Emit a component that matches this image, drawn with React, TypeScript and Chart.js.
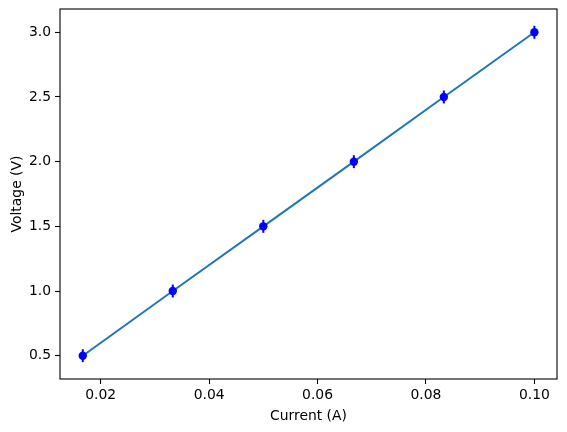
import React, { useEffect, useRef } from 'react'
import { Chart, registerables } from 'chart.js'

Chart.register(...registerables)

// I = V / R measurements
const current = [0.0167, 0.0333, 0.05, 0.0667, 0.0833, 0.1]
const voltage = [0.5, 1.0, 1.5, 2.0, 2.5, 3.0]
const voltageErr = [0.05, 0.05, 0.05, 0.05, 0.05, 0.05]

const xTicks = [0.02, 0.04, 0.06, 0.08, 0.1]
const yTicks = [0.5, 1.0, 1.5, 2.0, 2.5, 3.0]

const FONT = { family: 'DejaVu Sans', size: 13.9 }

const errorBars = {
  id: 'errorBars',
  afterDatasetsDraw(chart: any) {
    const { ctx, scales } = chart
    ctx.save()
    ctx.strokeStyle = '#0000ff'
    ctx.lineWidth = 2
    current.forEach((x, i) => {
      const px = scales.x.getPixelForValue(x)
      const y1 = scales.y.getPixelForValue(voltage[i] - voltageErr[i])
      const y2 = scales.y.getPixelForValue(voltage[i] + voltageErr[i])
      ctx.beginPath()
      ctx.moveTo(px, y1)
      ctx.lineTo(px, y2)
      ctx.stroke()
    })
    ctx.restore()
  },
}

const frame = {
  id: 'frame',
  afterDraw(chart: any) {
    const { ctx, chartArea } = chart
    ctx.save()
    ctx.strokeStyle = '#000'
    ctx.lineWidth = 1.1
    ctx.strokeRect(chartArea.left, chartArea.top, chartArea.right - chartArea.left, chartArea.bottom - chartArea.top)
    ctx.restore()
  },
}

export default function App() {
  const canvasRef = useRef<HTMLCanvasElement>(null)

  useEffect(() => {
    if (!canvasRef.current) return
    const points = current.map((x, i) => ({ x, y: voltage[i] }))

    const chart = new Chart(canvasRef.current, {
      type: 'scatter',
      data: {
        datasets: [
          {
            data: points,
            showLine: true,
            borderColor: '#1f77b4',
            borderWidth: 2,
            pointRadius: 0,
            order: 2,
          },
          {
            data: points,
            showLine: false,
            pointRadius: 4.2,
            pointBackgroundColor: '#0000ff',
            pointBorderColor: '#0000ff',
            pointBorderWidth: 0,
            order: 1,
          },
        ],
      },
      options: {
        responsive: false,
        animation: false,
        layout: { padding: { top: 9, right: 10, left: 0, bottom: 0 } },
        plugins: { legend: { display: false }, tooltip: { enabled: false } },
        scales: {
          x: {
            type: 'linear',
            min: 0.0125,
            max: 0.10417,
            afterBuildTicks: (s: any) => { s.ticks = xTicks.map(v => ({ value: v })) },
            afterFit: (s: any) => {
              s.height = 53
              s.paddingLeft = 0
              s.paddingRight = 0
            },
            grid: { drawOnChartArea: false, drawTicks: true, tickLength: 5, tickColor: '#000', tickWidth: 1.1 },
            border: { display: false },
            ticks: {
              color: '#000',
              font: FONT,
              padding: 3,
              maxRotation: 0,
              callback: (v: any) => Number(v).toFixed(2),
            },
            title: { display: true, text: 'Current (A)', color: '#000', font: FONT, padding: { top: 0, bottom: 7 } },
          },
          y: {
            type: 'linear',
            min: 0.32,
            max: 3.18,
            afterBuildTicks: (s: any) => { s.ticks = yTicks.map(v => ({ value: v })) },
            afterFit: (s: any) => {
              s.width = 60
              s.paddingTop = 0
              s.paddingBottom = 0
            },
            grid: { drawOnChartArea: false, drawTicks: true, tickLength: 5, tickColor: '#000', tickWidth: 1.1 },
            border: { display: false },
            ticks: {
              color: '#000',
              font: FONT,
              padding: 4,
              callback: (v: any) => Number(v).toFixed(1),
            },
            title: { display: true, text: 'Voltage (V)', color: '#000', font: FONT, padding: { top: 8.7, bottom: 0 } },
          },
        },
      },
      plugins: [errorBars, frame],
    })

    return () => chart.destroy()
  }, [])

  return (
    <div style={{ position: 'absolute', left: 0, top: 0, width: 567, height: 432, background: '#fff' }}>
      <canvas ref={canvasRef} width={567} height={432} style={{ display: 'block' }} />
    </div>
  )
}
